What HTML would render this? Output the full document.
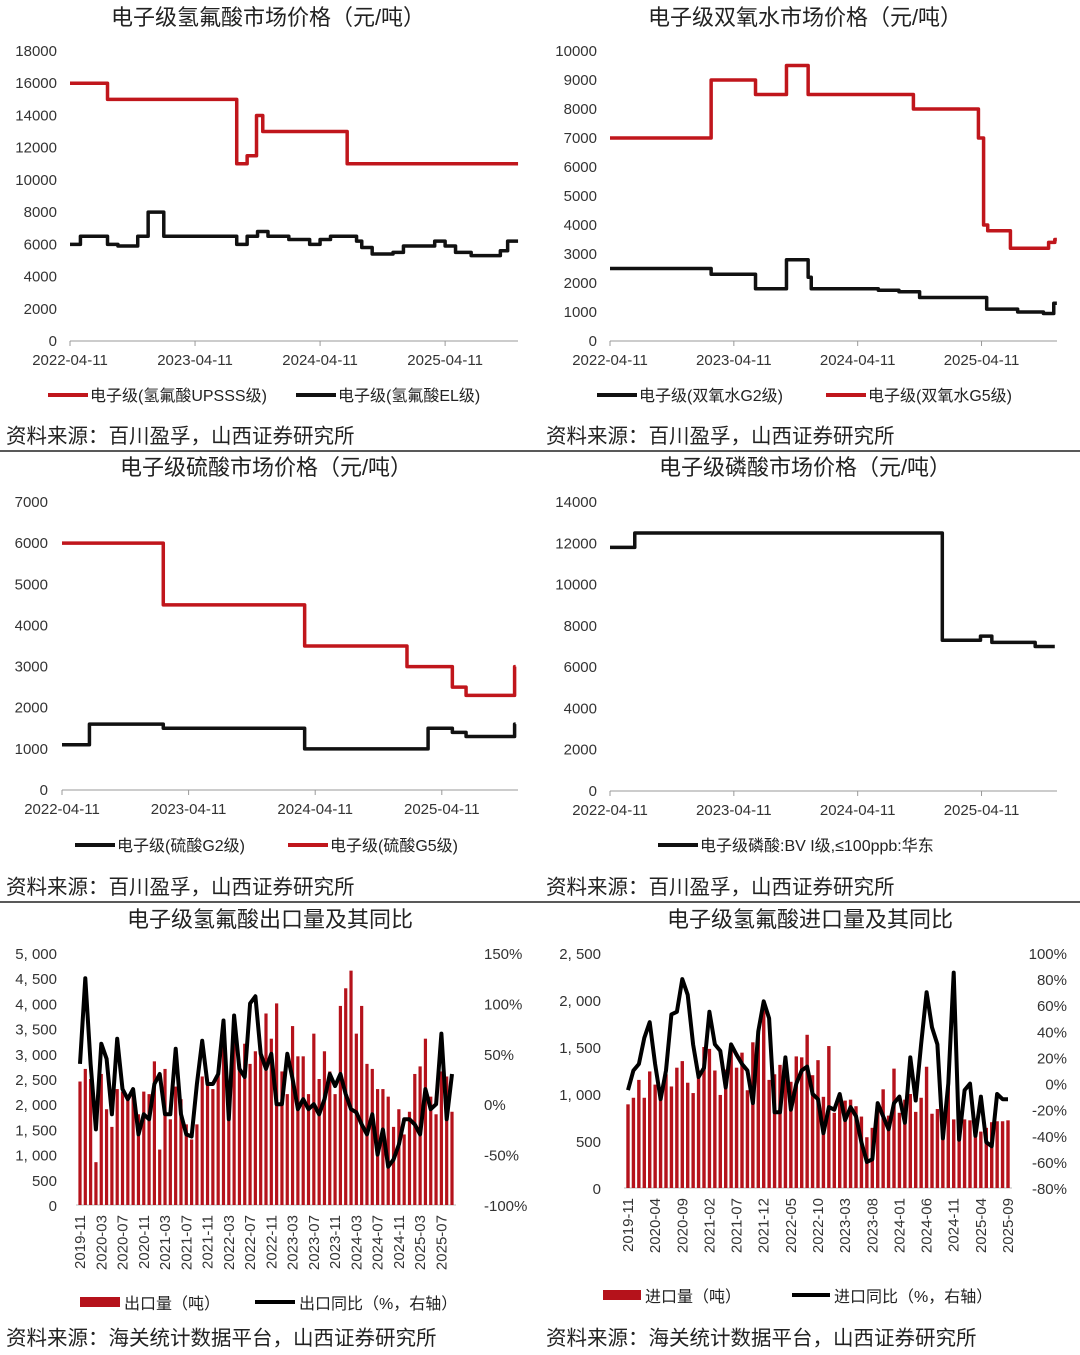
<!DOCTYPE html>
<html><head><meta charset="utf-8"><style>
html,body{margin:0;padding:0;background:#fff;}
svg{display:block;font-family:"Liberation Sans","Noto Sans CJK SC",sans-serif;}
.t{font-size:22px;fill:#222;text-anchor:middle;}
.tk{font-size:15px;fill:#333;}
.src{font-size:20.5px;fill:#222;}
.lg{font-size:16px;fill:#222;}
</style></head><body>
<svg id="page" width="1080" height="1355" viewBox="0 0 1080 1355">
<line x1="0" y1="451" x2="1080" y2="451" stroke="#222" stroke-width="1.5"/>
<line x1="0" y1="902" x2="1080" y2="902" stroke="#222" stroke-width="1.5"/>
<g id="root"></g>
</svg>
<script>
// ---- data (months since 2022-04-11 for step charts) ----
const dateTicks = ["2022-04-11","2023-04-11","2024-04-11","2025-04-11"];
const hfUpsssMonths = [0,3.6,16,17,17.9,18.5,26.6,43];
const hfUpsssValues = [16000,15000,11000,11500,14000,13000,11000,11000];
const hfElMonths = [0,1,3.6,4.6,6.5,7.5,9,16,17,18,19,21,23,24,25,27.5,28,29,31,32,35,36,37,38.5,39,41.3,42];
const hfElValues = [6000,6500,6000,5900,6500,8000,6500,6000,6500,6800,6500,6300,6000,6300,6500,6200,5800,5400,5500,5900,6200,5900,5500,5300,5300,5600,6200];
const h2o2G5Months = [0,9.8,14.1,17.1,19.2,29.4,35.7,36.2,36.6,38.8,40.6,42.5,43.1];
const h2o2G5Values = [7000,9000,8500,9500,8500,8000,7000,4000,3800,3200,3200,3400,3500];
const h2o2G2Months = [0,9.8,14.1,17.1,19.2,19.5,26,28,30,35.7,36.5,39.5,42,43];
const h2o2G2Values = [2500,2300,1800,2800,2200,1800,1750,1700,1500,1500,1100,1000,950,1300];
const sulfG2Months = [0,2.6,9.6,23,34.7,37,38.3,42.9];
const sulfG2Values = [1100,1600,1500,1000,1500,1400,1300,1600];
const sulfG5Months = [0,9.6,23,32.7,37,38.3,42.9];
const sulfG5Values = [6000,4500,3500,3000,2500,2300,3000];
const phosMonths = [0,2.4,32.2,35.9,37,41.2];
const phosValues = [11800,12500,7300,7500,7200,7000];
const phosEndMonth = 43.1;
// ---- monthly trade data 2019-11 .. 2025-09 ----
const exportVolume = [2450,2700,2500,850,2600,1900,1550,2300,2250,2100,2200,1800,2250,2200,2850,1100,2700,1700,2350,2100,1600,1300,1600,2550,2450,2300,2650,3650,2000,3650,2800,3200,2800,3050,3000,3800,3300,4000,2650,2200,3550,2950,2950,2200,3400,2500,3050,2650,2200,3950,4300,4650,3400,3950,2800,2700,2300,2300,2150,1550,1900,1400,1850,2600,2750,3300,2150,1800,2650,2550,1850];
const exportYoY = [40,125,40,-25,60,45,-10,65,15,5,15,-30,-10,-15,20,30,-10,-10,55,-10,-30,-32,20,63,20,20,30,83,-15,88,35,27,100,107,50,35,50,0,0,50,25,-5,5,-5,0,-10,5,30,18,30,10,-5,-8,-20,-30,-10,-50,-25,-62,-55,-40,-15,-15,-20,-30,15,-5,0,70,-15,30];
const importVolume = [890,960,1150,960,1240,1100,970,1210,1080,1280,1350,1120,1010,1250,1500,1480,1250,990,1260,1500,1280,1440,1040,1550,1650,1920,1150,1210,1310,1250,1130,1400,1390,1630,1200,1360,970,1510,800,1000,930,940,870,760,540,640,880,1050,770,1270,800,940,1000,810,960,1290,790,840,780,1090,730,740,730,720,740,600,640,700,710,710,720];
const importYoY = [-5,10,15,35,47,15,-12,10,53,55,80,68,30,5,12,55,30,25,-3,30,22,15,10,-15,40,63,50,-22,-22,20,-20,0,10,13,-8,-12,-38,-18,-20,-8,-28,-18,-25,-45,-60,-58,-15,-25,-35,-15,-10,-30,20,-13,30,70,43,30,-42,0,85,-43,-5,0,-40,-10,-45,-48,-8,-12,-12];

const NS="http://www.w3.org/2000/svg";
const root=document.getElementById('root');
function el(tag,attrs,parent,text){const e=document.createElementNS(NS,tag);for(const k in attrs)e.setAttribute(k,attrs[k]);if(text!==undefined)e.textContent=text;(parent||root).appendChild(e);return e;}
function monthLabel(i){const m=10+i;const y=2019+Math.floor(m/12);const mm=(m%12)+1;return y+"-"+String(mm).padStart(2,"0");}

function stepPath(months,values,endMonth,xs,ys){
  let d="";
  for(let i=0;i<months.length;i++){
    const x=xs(months[i]),y=ys(values[i]);
    d+= (i===0?"M":"L")+x+","+(i===0?y:ys(values[i-1]))+(i===0?"":" L"+x+","+y)+" ";
  }
  d+="L"+xs(endMonth)+","+ys(values[values.length-1]);
  return d;
}

function stepChart(cfg){
  const g=el('g',{});
  
  
  const t=el('text',{x:cfg.titleX,y:cfg.titleY,class:'t'},g,cfg.title);
  
  
  const xs=m=>cfg.x0+m*cfg.pxMonth;
  const ys=v=>cfg.yBase-(v/cfg.yMax)*(cfg.yBase-cfg.yTop);
  const ax=el('line',{x1:cfg.x0,y1:cfg.yBase,x2:cfg.xEnd,y2:cfg.yBase,stroke:'#999','stroke-width':1},g);
  
  
  for(let v=0;v<=cfg.yMax;v+=cfg.yStep){
    const l=el('text',{x:cfg.yLabelX,y:ys(v)+5,class:'tk','text-anchor':'end'},g,String(v));
    
    
  }
  dateTicks.forEach((d,i)=>{
    const x=xs(i*12);
    el('line',{x1:x,y1:cfg.yBase,x2:x,y2:cfg.yBase+5,stroke:'#999'},g);
    const l=el('text',{x:x,y:cfg.yBase+24,class:'tk','text-anchor':'middle'},g,d);
    
    
  });
  cfg.series.forEach(s=>{
    const p=el('path',{d:stepPath(s.m,s.v,cfg.end,xs,ys),fill:'none',stroke:s.c,'stroke-width':3.5,'stroke-linejoin':'round'},g);
    
    
  });
  cfg.legend.forEach(L=>{
    const gl=el('g',{},g);
    
    
    el('line',{x1:L.x,y1:cfg.legY,x2:L.x+40,y2:cfg.legY,stroke:L.c,'stroke-width':4},gl);
    el('text',{x:L.x+42,y:cfg.legY+6,class:'lg'},gl,L.t);
  });
  const s=el('text',{x:cfg.srcX,y:cfg.srcY,class:'src'},g,'资料来源：百川盈孚，山西证券研究所');
  
  
}

stepChart({name:'hf-price-chart',title:'电子级氢氟酸市场价格（元/吨）',titleX:268,titleY:25,x0:70,pxMonth:10.42,xEnd:518,end:43,yBase:341,yTop:51,yMax:18000,yStep:2000,yLabelX:57,
  series:[{m:hfUpsssMonths,v:hfUpsssValues,c:'#c0161c',name:'hf-upsss-line'},{m:hfElMonths,v:hfElValues,c:'#111',name:'hf-el-line'}],
  legY:395,legend:[{x:48,c:'#c0161c',t:'电子级(氢氟酸UPSSS级)'},{x:296,c:'#111',t:'电子级(氢氟酸EL级)'}],srcX:6,srcY:443});
stepChart({name:'h2o2-price-chart',title:'电子级双氧水市场价格（元/吨）',titleX:805,titleY:25,x0:610,pxMonth:10.32,xEnd:1057,end:43.3,yBase:341,yTop:51,yMax:10000,yStep:1000,yLabelX:597,
  series:[{m:h2o2G2Months,v:h2o2G2Values,c:'#111',name:'h2o2-g2-line'},{m:h2o2G5Months,v:h2o2G5Values,c:'#c0161c',name:'h2o2-g5-line'}],
  legY:395,legend:[{x:597,c:'#111',t:'电子级(双氧水G2级)'},{x:826,c:'#c0161c',t:'电子级(双氧水G5级)'}],srcX:546,srcY:443});
stepChart({name:'sulfuric-price-chart',title:'电子级硫酸市场价格（元/吨）',titleX:266,titleY:475,x0:62,pxMonth:10.55,xEnd:518,end:43,yBase:790,yTop:502,yMax:7000,yStep:1000,yLabelX:48,
  series:[{m:sulfG2Months,v:sulfG2Values,c:'#111',name:'sulfuric-g2-line'},{m:sulfG5Months,v:sulfG5Values,c:'#c0161c',name:'sulfuric-g5-line'}],
  legY:845,legend:[{x:75,c:'#111',t:'电子级(硫酸G2级)'},{x:288,c:'#c0161c',t:'电子级(硫酸G5级)'}],srcX:6,srcY:894});
stepChart({name:'phosphoric-price-chart',title:'电子级磷酸市场价格（元/吨）',titleX:805,titleY:475,x0:610,pxMonth:10.32,xEnd:1057,end:phosEndMonth,yBase:791,yTop:502,yMax:14000,yStep:2000,yLabelX:597,
  series:[{m:phosMonths,v:phosValues,c:'#111',name:'phosphoric-line'}],
  legY:845,legend:[{x:658,c:'#111',t:'电子级磷酸:BV I级,≤100ppb:华东'}],srcX:546,srcY:894});

function comboChart(cfg){
  const g=el('g',{});
  
  
  const t=el('text',{x:cfg.titleX,y:cfg.titleY,class:'t'},g,cfg.title);
  
  
  const n=cfg.bars.length;
  const xs=i=>cfg.x0+i*(cfg.x1-cfg.x0)/(n-1);
  const yl=v=>cfg.yBase-(v/cfg.lMax)*(cfg.yBase-cfg.yTop);
  const yr=v=>cfg.yBase-((v-cfg.rMin)/(cfg.rMax-cfg.rMin))*(cfg.yBase-cfg.yTop);
  for(let v=0;v<=cfg.lMax;v+=cfg.lStep){
    const l=el('text',{x:cfg.lLabelX,y:yl(v)+6,class:'tk','text-anchor':'end','font-size':cfg.fs,fill:cfg.tc},g,v>=1000?(Math.floor(v/1000)+", "+String(v%1000).padStart(3,"0")):String(v));
    
    
  }
  for(let v=cfg.rMin;v<=cfg.rMax;v+=cfg.rStep){
    const l=el('text',{x:cfg.rLabelX,y:yr(v)+6,class:'tk','text-anchor':cfg.rAnchor,'font-size':cfg.fs,fill:cfg.tc},g,v+'%');
    
    
  }
  el('line',{x1:cfg.x0-4,y1:cfg.yBase,x2:cfg.x1+4,y2:cfg.yBase,stroke:'#bbb'},g);
  cfg.bars.forEach((v,i)=>{
    const r=el('rect',{x:xs(i)-cfg.bw/2,y:yl(v),width:cfg.bw,height:cfg.yBase-yl(v),fill:'#b5121b'},g);
    
    
  });
  const d=cfg.line.map((v,i)=>(i?'L':'M')+xs(i).toFixed(1)+','+yr(v).toFixed(1)).join(' ');
  const p=el('path',{d:d,fill:'none',stroke:'#000','stroke-width':4,'stroke-linejoin':'round'},g);
  
  
  for(let i=0;i<n;i+=cfg.every){
    const x=xs(i);
    const l=el('text',{x:0,y:0,class:'tk','text-anchor':'end','font-size':cfg.xfs,fill:cfg.tc,transform:`translate(${x+5},${cfg.yBase+10}) rotate(-90)`},g,monthLabel(i));
    
    
  }
  const lb=el('g',{},g);
  
  
  el('rect',{x:cfg.lgX1,y:cfg.legY-5,width:cfg.lgW,height:10,fill:'#b5121b'},lb);
  el('text',{x:cfg.lgX1+cfg.lgW+4,y:cfg.legY+7,class:'lg','font-size':cfg.lfs},lb,cfg.lg1);
  const ll=el('g',{},g);
  
  
  el('line',{x1:cfg.lgX2,y1:cfg.legY,x2:cfg.lgX2+cfg.lgW,y2:cfg.legY,stroke:'#000','stroke-width':4},ll);
  el('text',{x:cfg.lgX2+cfg.lgW+4,y:cfg.legY+7,class:'lg','font-size':cfg.lfs},ll,cfg.lg2);
  const s=el('text',{x:cfg.srcX,y:1345,class:'src'},g,'资料来源：海关统计数据平台，山西证券研究所');
  
  
}
comboChart({name:'hf-export-chart',title:'电子级氢氟酸出口量及其同比',titleX:270,titleY:927,bars:exportVolume,line:exportYoY,x0:80,x1:452,yBase:1205,yTop:953,lMax:5000,lStep:500,rMin:-100,rMax:150,rStep:50,
  lLabelX:57,rLabelX:484,rAnchor:'start',fs:15,xfs:14,tc:'#555',bw:3.2,every:4,legY:1302,lgX1:80,lgX2:255,lgW:40,lfs:16,lg1:'出口量（吨）',lg2:'出口同比（%，右轴）',srcX:6});
comboChart({name:'hf-import-chart',title:'电子级氢氟酸进口量及其同比',titleX:810,titleY:927,bars:importVolume,line:importYoY,x0:628,x1:1008,yBase:1188,yTop:953,lMax:2500,lStep:500,rMin:-80,rMax:100,rStep:20,
  lLabelX:601,rLabelX:1067,rAnchor:'end',fs:17,xfs:17,tc:'#111',bw:3.4,every:5,legY:1295,lgX1:603,lgX2:792,lgW:38,lfs:19,lg1:'进口量（吨）',lg2:'进口同比（%，右轴）',srcX:546});
</script>
</body></html>
